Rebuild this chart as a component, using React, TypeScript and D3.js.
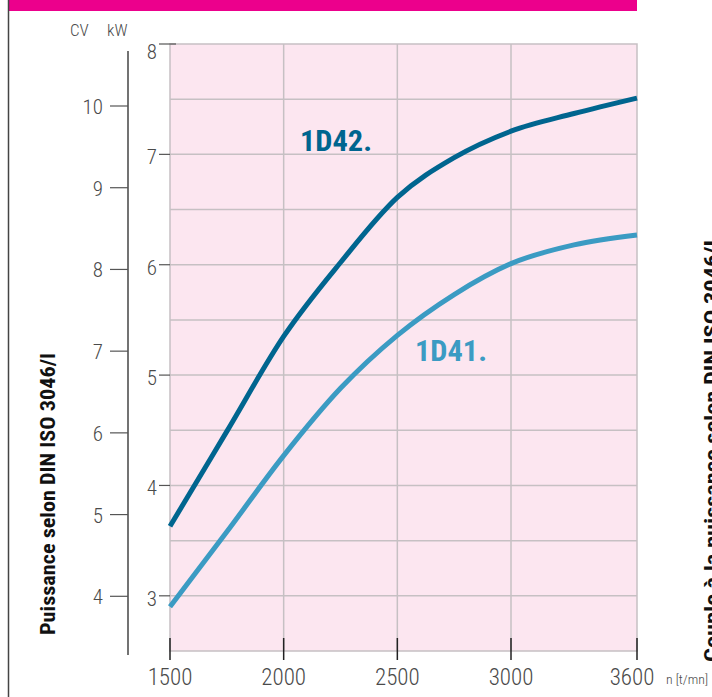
import React from 'react';
import * as d3 from 'd3';

// engine speed (t/mn) and power (kW)
const rpm = [1500, 1750, 2000, 2250, 2500, 2750, 3000, 3300, 3600];
const kw1D42 = [3.63, 4.49, 5.35, 6.02, 6.61, 6.97, 7.21, 7.37, 7.51];
const kw1D41 = [2.9, 3.58, 4.27, 4.88, 5.36, 5.73, 6.01, 6.18, 6.27];

const rpmTicks = [1500, 2000, 2500, 3000, 3600];
const kwTicks = [3, 4, 5, 6, 7, 8];
const kwGrid = [3, 3.5, 4, 4.5, 5, 5.5, 6, 6.5, 7, 7.5];
const cvTicks = [4, 5, 6, 7, 8, 9, 10];

const W = 712;
const H = 697;
const FONT = "'Liberation Sans Narrow', 'Roboto Condensed', 'Liberation Sans', sans-serif";
const TICK = '#4a4a4a';

const App = () => {
  // the original x axis is not quite linear past 3000
  const x = d3.scaleLinear().domain([1500, 3000, 3600]).range([170, 511, 637]);
  const yKw = d3.scaleLinear().domain([2.5, 8]).range([651, 44]);
  const yCv = d3.scaleLinear().domain([4, 10]).range([596.3, 106]);

  const line = d3.line<number>()
    .x((_, i) => x(rpm[i]))
    .y(d => yKw(d))
    .curve(d3.curveMonotoneX);

  const series = [
    { name: '1D42.', values: kw1D42, color: '#00658f', lx: 300, ly: 151 },
    { name: '1D41.', values: kw1D41, color: '#3b9bc3', lx: 415, ly: 361 },
  ];

  const [x0, x1] = [x(1500), x(3600)];
  const [yTop, yBot] = [yKw(8), yKw(2.5)];

  return (
    <svg width={W} height={H} style={{ position: 'absolute', left: 0, top: 0, background: '#fff' }}
      fontFamily={FONT}>
      {/* header strip and page border */}
      <rect x={8} y={0} width={x1 - 8} height={11} fill="#ec008c" />
      <line x1={8.5} x2={8.5} y1={0} y2={H} stroke="#444" strokeWidth={1.5} />

      {/* plot area */}
      <rect x={x0} y={yTop} width={x1 - x0} height={yBot - yTop} fill="#fce6f0" />
      {kwGrid.map(v => (
        <line key={'h' + v} x1={x0} x2={x1} y1={yKw(v)} y2={yKw(v)} stroke="#c6c0c3" strokeWidth={1.5} />
      ))}
      {[2000, 2500, 3000].map(v => (
        <line key={'v' + v} x1={x(v)} x2={x(v)} y1={yTop} y2={yBot} stroke="#c6c0c3" strokeWidth={1.5} />
      ))}
      <rect x={x0} y={yTop} width={x1 - x0} height={yBot - yTop} fill="none" stroke="#c6c0c3" strokeWidth={1.5} />

      {/* curves */}
      {series.map(s => (
        <g key={s.name}>
          <path d={line(s.values) || ''} fill="none" stroke={s.color} strokeWidth={5} />
          <text x={s.lx} y={s.ly} fill={s.color} fontSize={29} fontWeight="bold"
            textLength={72} lengthAdjust="spacingAndGlyphs">{s.name}</text>
        </g>
      ))}

      {/* kW axis */}
      <text x={107} y={36} fontSize={17} fill={TICK} fontWeight={300}>kW</text>
      {kwTicks.map(v => (
        <g key={'kw' + v}>
          <line x1={159} x2={v === 8 ? 176 : x0} y1={yKw(v)} y2={yKw(v)} stroke="#555" strokeWidth={1.2} />
          <text x={157} y={yKw(v) + (v === 8 ? 15 : 10)} textAnchor="end" fontSize={21}
            fill={TICK} fontWeight={300}>{v}</text>
        </g>
      ))}

      {/* CV axis */}
      <text x={70} y={36} fontSize={17} fill={TICK} fontWeight={300}>CV</text>
      <line x1={128} x2={128} y1={51} y2={655} stroke="#444" strokeWidth={1.5} />
      {cvTicks.map(v => (
        <g key={'cv' + v}>
          <line x1={110} x2={128} y1={yCv(v)} y2={yCv(v)} stroke="#555" strokeWidth={1.2} />
          <text x={103} y={yCv(v) + 8} textAnchor="end" fontSize={21}
            fill={TICK} fontWeight={300}>{v}</text>
        </g>
      ))}

      {/* rpm axis */}
      {rpmTicks.map(v => (
        <g key={'r' + v}>
          <line x1={x(v)} x2={x(v)} y1={638} y2={660} stroke="#222" strokeWidth={1.5} />
          <text x={v === 3600 ? x(v) - 5 : x(v)} y={685} textAnchor="middle" fontSize={23}
            fill={TICK} fontWeight={300}>{v}</text>
        </g>
      ))}
      <text x={666} y={684} fontSize={12} fill={TICK} fontWeight={300}
        textLength={42} lengthAdjust="spacingAndGlyphs">n [t/mn]</text>

      {/* axis titles */}
      <text transform="translate(55,635) rotate(-90)" fontSize={20} fontWeight="bold" fill="#111"
        textLength={282} lengthAdjust="spacingAndGlyphs">Puissance selon DIN ISO 3046/I</text>
      <text transform="translate(719,662) rotate(-90)" fontSize={20} fontWeight="bold" fill="#111"
        textLength={422} lengthAdjust="spacingAndGlyphs">Couple à la puissance selon DIN ISO 3046/I</text>
    </svg>
  );
};

export default App;
